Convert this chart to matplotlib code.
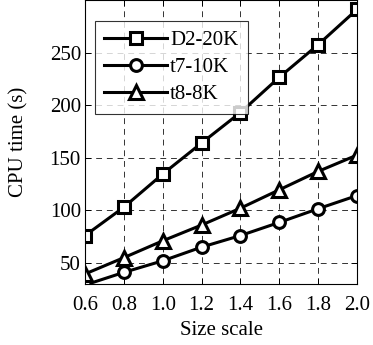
import matplotlib
matplotlib.use("Agg")
import matplotlib.pyplot as plt

x = [0.6, 0.8, 1.0, 1.2, 1.4, 1.6, 1.8, 2.0]
d2_20k = [76, 103, 134.5, 164, 193, 226.5, 257.5, 291]
t7_10k = [29, 41, 52, 65, 76, 88.5, 101.5, 114]
t8_8k = [39.5, 55, 71, 86, 102, 119.5, 137, 152.5]
xticks = [0.6, 0.8, 1.0, 1.2, 1.4, 1.6, 1.8, 2.0]
yticks = [50, 100, 150, 200, 250]

plt.rcParams['font.family'] = ['Liberation Serif', 'DejaVu Serif']
fig = plt.figure(figsize=(3.73, 3.45), dpi=100)
ax = fig.add_axes([0.228, 0.177, 0.729, 0.823])

kw = dict(color='black', lw=2.2, markerfacecolor='white', markeredgecolor='black', markeredgewidth=2.2)
ax.plot(x, d2_20k, marker='s', markersize=8.5, label='D2-20K', **kw)
ax.plot(x, t7_10k, marker='o', markersize=8.5, label='t7-10K', **kw)
ax.plot(x, t8_8k, marker='^', markersize=9.5, label='t8-8K', **kw)

ax.set_xlim(0.6, 2.0)
ax.set_ylim(30, 300)
ax.set_xticks(xticks)
ax.set_xticklabels([f"{v:.1f}" for v in xticks])
ax.set_yticks(yticks)
ax.grid(True, color='#333333', linestyle=(0, (6, 5)), linewidth=0.7)
ax.tick_params(direction='in', top=True, right=True, labelsize=15, length=4, pad=3, width=0.7)
ax.tick_params(axis='x', pad=9)
for s in ax.spines.values():
    s.set_linewidth(0.8)
ax.set_xlabel('Size scale', fontsize=15, labelpad=4)
ax.set_ylabel('CPU time (s)', fontsize=15, labelpad=15)

leg = ax.legend(loc='upper left', bbox_to_anchor=(0.037, 0.926),
                prop={'family': 'Liberation Serif', 'size': 15}, frameon=True,
                fancybox=False, edgecolor='black', handlelength=3.0, handletextpad=0.15,
                borderpad=0.45, labelspacing=0.36, borderaxespad=0)
leg.get_frame().set_linewidth(0.8)

fig.savefig('out.png', dpi=100)
